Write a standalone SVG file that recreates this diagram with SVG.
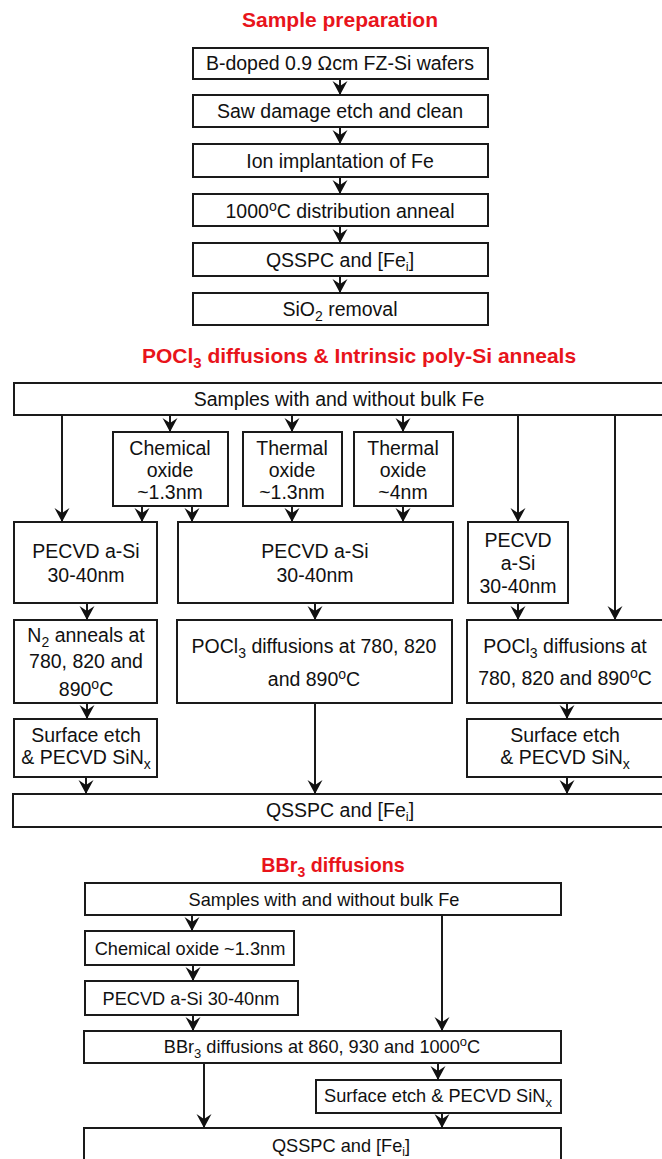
<svg xmlns="http://www.w3.org/2000/svg" width="662" height="1159" viewBox="0 0 662 1159">
<style>
.bx{fill:#fff;stroke:#1a1a1a;stroke-width:2}
.t{font-family:"Liberation Sans",Arial,sans-serif;font-size:19.5px;fill:#111;text-anchor:middle}
.ts{font-family:"Liberation Sans",Arial,sans-serif;font-size:18.2px;fill:#111;text-anchor:middle}
.h{font-family:"Liberation Sans",Arial,sans-serif;font-weight:bold;font-size:21px;fill:#e8141b;text-anchor:middle}
.c line{stroke:#1a1a1a;stroke-width:2;marker-end:url(#ah)}
</style>
<defs>
<marker id="ah" viewBox="-14 -8 15 16" refX="0" refY="0" markerWidth="15" markerHeight="16" orient="auto" markerUnits="userSpaceOnUse">
<path d="M0,0 L-14,-7.5 L-9,0 L-14,7.5 Z" fill="#111"/>
</marker>
</defs>
<rect width="662" height="1159" fill="#fff"/>

<!-- Section 1 -->
<text class="h" x="340" y="27">Sample preparation</text>
<g id="n1"><rect class="bx" x="193" y="48" width="295" height="31"/><text class="t" x="340" y="70">B-doped 0.9 Ωcm FZ-Si wafers</text></g>
<g id="n2"><rect class="bx" x="193" y="95" width="295" height="32"/><text class="t" x="340" y="118">Saw damage etch and clean</text></g>
<g id="n3"><rect class="bx" x="193" y="144" width="295" height="33"/><text class="t" x="340" y="168">Ion implantation of Fe</text></g>
<g id="n4"><rect class="bx" x="193" y="194" width="295" height="32"/><text class="t" x="340" y="218">1000<tspan dy="-7" font-size="14">o</tspan><tspan dy="7">C distribution anneal</tspan></text></g>
<g id="n5"><rect class="bx" x="193" y="243" width="295" height="33"/><text class="t" x="340" y="267">QSSPC and [Fe<tspan dy="4" font-size="13">i</tspan><tspan dy="-4">]</tspan></text></g>
<g id="n6"><rect class="bx" x="193" y="293" width="295" height="32"/><text class="t" x="340" y="316">SiO<tspan dy="5" font-size="14">2</tspan><tspan dy="-5"> removal</tspan></text></g>

<!-- Section 2 -->
<text class="h" x="359" y="363">POCl<tspan dy="5" font-size="15">3</tspan><tspan dy="-5"> diffusions &amp; Intrinsic poly-Si anneals</tspan></text>
<g id="m0"><rect class="bx" x="14" y="383" width="662" height="32"/><text class="t" x="339" y="406">Samples with and without bulk Fe</text></g>
<g id="m1"><rect class="bx" x="113" y="432" width="115" height="74"/><text class="t" x="170" y="455">Chemical</text><text class="t" x="170" y="477">oxide</text><text class="t" x="170" y="499">~1.3nm</text></g>
<g id="m2"><rect class="bx" x="243" y="432" width="99" height="74"/><text class="t" x="292" y="455">Thermal</text><text class="t" x="292" y="477">oxide</text><text class="t" x="292" y="499">~1.3nm</text></g>
<g id="m3"><rect class="bx" x="354" y="432" width="99" height="74"/><text class="t" x="403" y="455">Thermal</text><text class="t" x="403" y="477">oxide</text><text class="t" x="403" y="499">~4nm</text></g>
<g id="m4"><rect class="bx" x="14" y="522" width="143" height="81"/><text class="t" x="86" y="558">PECVD a-Si</text><text class="t" x="86" y="582">30-40nm</text></g>
<g id="m5"><rect class="bx" x="178" y="522" width="275" height="81"/><text class="t" x="315" y="558">PECVD a-Si</text><text class="t" x="315" y="582">30-40nm</text></g>
<g id="m6"><rect class="bx" x="468" y="522" width="100" height="81"/><text class="t" x="518" y="547">PECVD</text><text class="t" x="518" y="570">a-Si</text><text class="t" x="518" y="593">30-40nm</text></g>
<g id="m7"><rect class="bx" x="14" y="620" width="143" height="83"/><text class="t" x="86" y="642">N<tspan dy="5" font-size="14">2</tspan><tspan dy="-5"> anneals at</tspan></text><text class="t" x="86" y="668">780, 820 and</text><text class="t" x="86" y="696">890<tspan dy="-7" font-size="14">o</tspan><tspan dy="7">C</tspan></text></g>
<g id="m8"><rect class="bx" x="177" y="620" width="275" height="83"/><text class="t" x="314" y="653">POCl<tspan dy="5" font-size="14">3</tspan><tspan dy="-5"> diffusions at 780, 820</tspan></text><text class="t" x="314" y="686">and 890<tspan dy="-7" font-size="14">o</tspan><tspan dy="7">C</tspan></text></g>
<g id="m9"><rect class="bx" x="467" y="620" width="210" height="83"/><text class="t" x="565" y="653">POCl<tspan dy="5" font-size="14">3</tspan><tspan dy="-5"> diffusions at</tspan></text><text class="t" x="565" y="685">780, 820 and 890<tspan dy="-7" font-size="14">o</tspan><tspan dy="7">C</tspan></text></g>
<g id="m10"><rect class="bx" x="14" y="719" width="143" height="58"/><text class="t" x="86" y="742">Surface etch</text><text class="t" x="86" y="764">&amp; PECVD SiN<tspan dy="5" font-size="14">x</tspan></text></g>
<g id="m11"><rect class="bx" x="467" y="719" width="210" height="58"/><text class="t" x="565" y="742">Surface etch</text><text class="t" x="565" y="764">&amp; PECVD SiN<tspan dy="5" font-size="14">x</tspan></text></g>
<g id="m12"><rect class="bx" x="13" y="794" width="664" height="33"/><text class="t" x="340" y="817">QSSPC and [Fe<tspan dy="4" font-size="13">i</tspan><tspan dy="-4">]</tspan></text></g>

<!-- Section 3 -->
<text class="h" x="333" y="872" style="font-size:19.7px">BBr<tspan dy="5" font-size="14">3</tspan><tspan dy="-5"> diffusions</tspan></text>
<g id="b1"><rect class="bx" x="85" y="883" width="476" height="32"/><text class="ts" x="324" y="906">Samples with and without bulk Fe</text></g>
<g id="b2"><rect class="bx" x="85" y="931" width="209" height="34"/><text class="ts" x="190" y="955">Chemical oxide ~1.3nm</text></g>
<g id="b3"><rect class="bx" x="85" y="981" width="213" height="34"/><text class="ts" x="191" y="1005">PECVD a-Si 30-40nm</text></g>
<g id="b4"><rect class="bx" x="84" y="1031" width="477" height="32"/><text class="ts" x="322" y="1053">BBr<tspan dy="5" font-size="13">3</tspan><tspan dy="-5"> diffusions at 860, 930 and 1000</tspan><tspan dy="-7" font-size="13">o</tspan><tspan dy="7">C</tspan></text></g>
<g id="b5"><rect class="bx" x="316" y="1080" width="245" height="33"/><text class="ts" x="438" y="1102">Surface etch &amp; PECVD SiN<tspan dy="5" font-size="13">x</tspan></text></g>
<g id="b6"><rect class="bx" x="84" y="1128" width="477" height="40"/><text class="ts" x="341" y="1152">QSSPC and [Fe<tspan dy="4" font-size="12">i</tspan><tspan dy="-4">]</tspan></text></g>

<g id="connectors" class="c">
<line x1="340" y1="79" x2="340" y2="95"/>
<line x1="340" y1="127" x2="340" y2="144"/>
<line x1="340" y1="177" x2="340" y2="194"/>
<line x1="340" y1="226" x2="340" y2="243"/>
<line x1="340" y1="276" x2="340" y2="293"/>

<line x1="62" y1="415" x2="62" y2="522"/>
<line x1="170" y1="415" x2="170" y2="432"/>
<line x1="292" y1="415" x2="292" y2="432"/>
<line x1="403" y1="415" x2="403" y2="432"/>
<line x1="518" y1="415" x2="518" y2="522"/>
<line x1="615" y1="415" x2="615" y2="620"/>
<line x1="142" y1="506" x2="142" y2="522"/>
<line x1="192" y1="506" x2="192" y2="522"/>
<line x1="292" y1="506" x2="292" y2="522"/>
<line x1="403" y1="506" x2="403" y2="522"/>
<line x1="87" y1="603" x2="87" y2="620"/>
<line x1="315" y1="603" x2="315" y2="620"/>
<line x1="518" y1="603" x2="518" y2="620"/>
<line x1="87" y1="703" x2="87" y2="719"/>
<line x1="567" y1="703" x2="567" y2="719"/>
<line x1="315" y1="703" x2="315" y2="794"/>
<line x1="86" y1="777" x2="86" y2="794"/>
<line x1="567" y1="777" x2="567" y2="794"/>

<line x1="192" y1="915" x2="192" y2="931"/>
<line x1="193" y1="965" x2="193" y2="981"/>
<line x1="193" y1="1015" x2="193" y2="1031"/>
<line x1="442" y1="915" x2="442" y2="1031"/>
<line x1="204" y1="1063" x2="204" y2="1128"/>
<line x1="438" y1="1063" x2="438" y2="1080"/>
<line x1="442" y1="1113" x2="442" y2="1128"/>
</g>
</svg>
